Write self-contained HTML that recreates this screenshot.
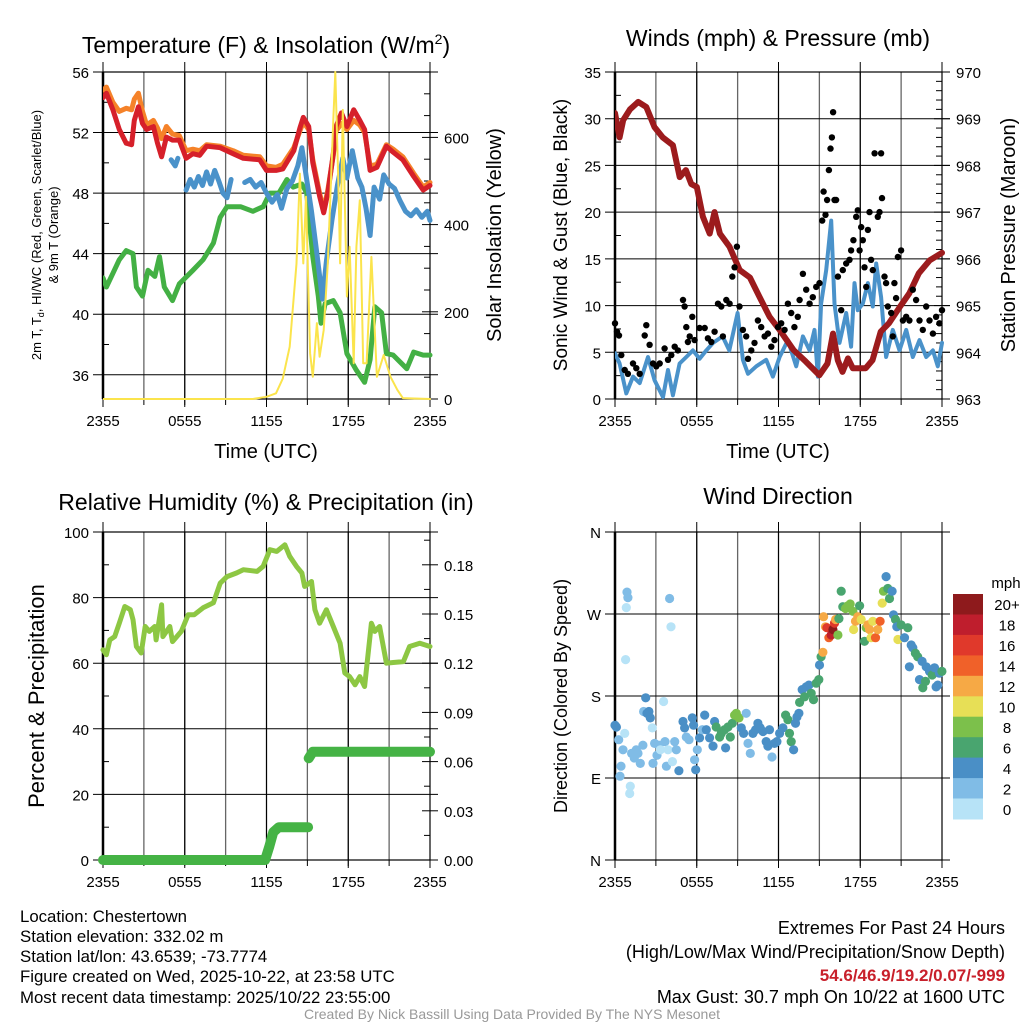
<!DOCTYPE html>
<html><head><meta charset="utf-8"><style>
html,body{margin:0;padding:0;background:#fff;}
svg{display:block;font-family:"Liberation Sans",Arial,sans-serif;}
</style></head><body>
<svg id="fig" width="1024" height="1024" viewBox="0 0 1024 1024">
<rect width="1024" height="1024" fill="#fff"/>
<g id="layer"></g>
<g fill="#000">
<g font-size="16.8">
<text x="20" y="922">Location: Chestertown</text>
<text x="20" y="942">Station elevation: 332.02 m</text>
<text x="20" y="962">Station lat/lon: 43.6539; -73.7774</text>
<text x="20" y="982">Figure created on Wed, 2025-10-22, at 23:58 UTC</text>
<text x="20" y="1003">Most recent data timestamp: 2025/10/22 23:55:00</text>
</g>
<g font-size="18">
<text x="1005" y="934" text-anchor="end">Extremes For Past 24 Hours</text>
<text x="1005" y="958" text-anchor="end">(High/Low/Max Wind/Precipitation/Snow Depth)</text>
<text x="1005" y="981" text-anchor="end" fill="#c8202b" font-weight="bold" font-size="17">54.6/46.9/19.2/0.07/-999</text>
<text x="1005" y="1003" text-anchor="end">Max Gust: 30.7 mph On 10/22 at 1600 UTC</text>
</g>
<text x="512" y="1019" text-anchor="middle" font-size="14" fill="#999">Created By Nick Bassill Using Data Provided By The NYS Mesonet</text>
</g>
</svg>
<script>
// ---------- DATA ----------
const xTickLabels = ["2355","0555","1155","1755","2355"];
const xTickHours = [0,6,12,18,24];
// Temperature panel
const tempT   = [0,0.25,0.73,1.2,1.7,2.1,2.3,2.6,2.9,3.2,3.7,4.0,4.3,4.65,5.1,5.6,6.1,6.6,7.1,7.6,8.6,9.55,10.3,11.5,12.0,12.7,13.2,14.0,14.45,14.7,15.1,15.4,15.9,16.2,16.5,16.9,17.1,17.5,17.9,18.4,18.85,19.2,19.6,20.1,20.8,21.3,22.0,22.8,23.5,24];
const redV    = [54.3,54.6,53.5,52.2,51.3,51.2,52.8,53.7,52.6,52.2,52.4,51.3,50.4,51.7,51.5,51.5,50.3,50.6,50.5,51.1,51.0,50.6,50.3,50.2,49.5,49.5,49.6,50.8,52.3,53.0,52.4,50.0,47.8,46.7,48.0,50.6,52.4,53.3,52.4,53.5,52.8,52.2,49.5,49.7,51.1,50.7,50.2,49.1,48.2,48.5];
const orangeV = [54.8,55.0,54.0,53.4,53.6,53.5,54.2,54.6,53.4,52.5,52.8,52.3,51.6,52.4,51.9,51.8,50.8,50.9,50.8,51.2,51.1,50.8,50.5,50.4,49.8,49.7,49.9,51.0,52.1,52.7,52.2,50.2,48.0,46.9,48.2,50.5,52.1,52.6,52.2,52.8,52.5,52.0,49.8,49.9,51.2,50.9,50.4,49.3,48.4,48.7];
const blueT = [5.0,5.3,5.5,5.7,6.1,6.4,6.7,7.0,7.3,7.6,7.9,8.2,8.5,8.8,9.1,9.4,9.6,10.4,10.8,11.2,11.6,12.0,12.4,12.8,13.1,13.5,13.9,14.3,14.6,14.9,15.3,15.7,16.1,16.4,16.8,17.2,17.6,17.9,18.3,18.7,19.0,19.3,19.6,19.9,20.3,20.6,21.0,21.4,21.8,22.2,22.6,23.0,23.4,23.8,24];
const blueV = [50.2,49.8,50.3,null,48.2,48.9,48.4,49.1,48.5,49.4,48.6,49.5,48.8,48.0,47.7,48.9,null,48.7,48.9,48.4,48.7,48.0,47.4,47.9,47.0,48.3,48.8,49.8,51.0,49.2,46.8,44.0,41.0,43.5,46.2,48.5,50.3,49.0,50.8,49.0,48.4,47.0,45.2,48.4,47.6,49.2,48.6,48.3,47.5,46.8,46.5,46.9,46.4,46.8,46.2];
const greenT = [0,0.25,0.73,1.2,1.7,2.2,2.45,2.9,3.3,3.8,4.15,4.5,5.1,5.6,6.6,7.35,8.1,8.6,9.1,10.1,11.0,11.75,12.25,12.9,13.5,13.95,14.6,14.95,15.4,15.8,16.0,16.3,16.9,17.4,17.9,18.6,19.2,19.6,19.95,20.45,20.8,21.3,22.3,22.8,23.5,24];
const greenV = [42.4,41.8,42.7,43.6,44.2,44.0,41.8,41.2,42.9,42.5,43.8,41.8,40.9,42.0,42.9,43.6,44.7,46.4,47.1,47.1,46.8,47.1,48.0,48.0,48.9,48.4,48.6,48.0,43.8,41.2,39.4,40.7,40.9,40.1,37.4,36.3,35.5,37.0,40.5,40.1,37.4,37.3,36.4,37.5,37.3,37.3];
const solarT = [0,11.0,12.0,12.7,13.2,13.7,14.2,14.45,14.7,14.9,15.2,15.4,15.7,15.9,16.2,16.5,16.9,17.05,17.3,17.4,17.6,17.9,18.1,18.4,18.6,18.85,19.1,19.35,19.7,20.1,20.6,21.1,21.6,22.0,24];
const solarV = [0,0,5,13,47,120,311,517,311,464,105,51,174,97,158,311,640,750,464,311,663,235,349,82,349,456,82,82,326,51,101,51,21,2,0];
// Wind panel
const presT = [0,0.34,0.6,1.1,1.7,2.3,2.9,3.5,4.25,4.75,5.2,5.6,6.0,6.45,6.95,7.3,7.7,8.4,9.15,9.9,10.6,11.35,12.1,13.1,14.0,15.0,15.6,16.0,16.35,16.7,17.1,17.45,18.4,18.9,19.5,20.1,20.9,21.6,22.3,23.1,24];
const presV = [969.12,968.6,968.97,969.2,969.36,969.25,968.82,968.6,968.43,967.75,967.9,967.6,967.54,966.9,966.54,967.0,966.54,966.26,965.76,965.6,965.19,964.76,964.47,964.05,963.8,963.51,963.76,964.4,963.83,963.58,963.87,963.66,963.66,963.83,964.44,964.62,964.97,965.26,965.69,965.97,966.13];
const windT = [0,0.34,0.83,1.32,1.81,2.42,2.91,3.52,3.89,4.25,4.74,5.23,5.72,6.21,6.7,7.19,7.9,8.39,9.0,9.39,9.76,10.37,11.1,11.59,12.08,12.69,13.3,13.79,14.28,14.64,14.89,15.13,15.5,15.87,16.11,16.48,16.97,17.33,17.58,17.82,18.19,18.56,18.92,19.17,19.53,19.9,20.39,20.88,21.37,21.86,22.35,22.84,23.33,23.69,24];
const windV = [4.9,3.8,0.6,2.4,1.7,4.5,2.0,0.2,3.1,0.4,3.8,4.5,5.2,4.3,5.2,6.0,6.7,5.2,9.2,4.2,2.7,3.5,4.2,2.4,4.5,6.3,3.5,6.7,5.2,7.4,2.4,10.2,13.8,19.1,10.2,6.0,9.2,5.6,12.4,9.5,10.2,12.4,9.9,14.5,10.9,4.5,7.4,5.2,7.4,4.5,6.3,4.5,5.2,3.5,6.0];
const gustT = [0,0.15,0.29,0.46,0.71,0.95,1.32,1.56,1.81,2.18,2.3,2.54,2.79,3.03,3.28,3.64,3.89,4.13,4.38,4.62,4.99,5.11,5.23,5.35,5.48,5.67,5.84,6.21,6.58,6.82,7.07,7.31,7.56,7.8,7.92,8.17,8.41,8.61,8.78,8.95,9.14,9.39,9.63,9.76,10.0,10.24,10.49,10.73,10.98,11.22,11.47,11.71,11.96,12.2,12.45,12.69,12.93,13.17,13.42,13.55,13.79,14.03,14.28,14.52,14.77,15.01,15.21,15.31,15.45,15.57,15.7,15.82,15.92,16.01,16.11,16.23,16.36,16.6,16.72,16.97,17.21,17.33,17.5,17.7,17.82,17.95,18.07,18.19,18.31,18.44,18.56,18.68,18.8,18.92,19.05,19.29,19.41,19.53,19.6,19.78,19.9,20.02,20.27,20.39,20.51,20.63,20.76,21.0,21.13,21.37,21.61,21.86,22.1,22.35,22.59,22.84,23.08,23.33,23.57,23.81,24];
const gustV = [8.1,7.2,6.8,4.7,3.1,2.7,3.8,3.3,2.7,6.8,7.9,5.8,3.8,3.5,3.8,5.4,4.2,4.7,5.6,5.2,10.6,9.9,7.7,6.1,6.7,8.8,6.3,7.6,7.6,6.5,6.1,7.2,10.2,9.9,6.7,10.6,10.2,13.1,14.1,16.3,9.9,7.4,6.7,4.3,5.2,6.0,8.4,7.7,6.7,7.0,5.6,6.3,7.7,8.1,7.4,10.2,9.2,7.7,8.8,10.6,13.4,11.7,10.2,10.9,12.0,12.4,19.1,22.2,19.7,21.3,24.5,26.8,28.0,30.7,21.3,21.3,13.1,9.5,13.8,14.5,14.9,15.9,17.0,19.5,20.2,15.9,18.4,17.0,14.1,12.0,18.1,20.0,14.9,13.8,26.3,19.5,20.0,26.3,21.5,13.1,12.4,9.9,9.2,6.7,12.4,10.8,15.2,15.9,8.4,8.8,8.4,11.7,10.6,8.4,7.4,9.9,8.4,7.0,8.8,8.1,9.5];
// RH & precip panel
const rhT = [0,0.25,0.5,0.86,1.2,1.6,2.0,2.2,2.45,2.8,3.1,3.4,3.8,3.9,4.3,4.4,4.9,5.1,5.75,6.25,6.7,7.35,8.1,8.6,9.1,9.8,10.3,11.3,11.75,12.25,12.75,13.35,13.7,14.2,14.6,14.8,15.3,15.55,15.9,16.4,16.9,17.4,17.75,18.1,18.5,18.85,19.2,19.7,19.95,20.3,20.8,21.3,22.05,22.5,23.25,24];
const rhV = [64.1,62.6,67.1,68.1,72.2,77.3,76.3,73.3,65.1,63.1,71.2,69.7,71.2,67.1,77.8,68.1,71.2,66.6,69.7,74.8,74.8,76.9,78.4,84.4,86.4,87.5,88.5,88.0,89.5,94.6,94.1,96.1,92.6,89.5,87.5,83.4,84.9,76.3,72.2,76.3,71.2,66.1,57.0,55.9,53.4,55.9,52.9,72.2,69.7,71.2,60.0,60.2,60.5,65.1,66.1,65.1];
const precipT = [0,11.9,12.2,12.5,12.9,15.05,15.06,15.1,15.4,24];
const precipV = [0,0,0.008,0.017,0.02,0.02,null,0.062,0.066,0.066];
// Wind direction panel
const dirT = [0,0.1,0.27,0.37,0.44,0.59,0.71,0.78,0.88,0.95,0.83,1.12,1.08,1.22,1.42,1.56,1.69,1.86,2.05,2.1,2.25,2.35,2.49,2.59,2.74,2.79,2.91,3.08,3.23,3.33,3.57,3.67,3.77,3.89,4.01,4.11,4.21,4.38,4.5,4.69,4.99,5.11,5.23,5.43,5.67,5.77,5.84,5.92,6.04,6.21,6.41,6.58,6.7,6.94,7.19,7.31,7.43,7.68,7.8,8.04,8.12,8.29,8.46,8.61,8.78,8.9,9.1,9.27,9.44,9.63,9.76,9.93,10.12,10.32,10.49,10.66,10.86,11.1,11.22,11.34,11.52,11.71,11.88,12.08,12.32,12.52,12.69,12.81,12.93,13.11,13.25,13.35,13.5,13.55,13.74,13.91,14.03,14.23,14.4,14.57,14.77,14.96,15.01,15.13,15.26,15.31,15.45,15.55,15.7,15.87,15.99,16.11,16.19,16.36,16.43,16.6,16.72,16.92,17.09,17.26,17.46,17.51,17.65,17.82,17.95,18.07,18.31,18.44,18.56,18.68,18.8,18.92,19.12,19.29,19.46,19.61,19.71,19.9,20.02,20.15,20.34,20.44,20.59,20.76,20.68,21.0,21.25,21.49,21.61,21.74,21.86,22.05,22.22,22.35,22.54,22.59,22.79,22.84,23.08,23.28,23.45,23.57,23.69,23.81,23.99];
const dirDeg = [148,146,132,92,103,121,139,220,294,288,277,81,73,117,112,121,117,106,126,163,178,161,163,156,145,106,128,115,126,121,174,130,103,121,287,256,108,130,121,98,152,145,135,132,156,148,110,99,121,134,143,159,143,134,125,152,146,135,139,143,123,146,135,150,159,161,156,145,139,161,128,117,139,143,150,145,141,130,125,143,113,128,130,139,145,159,154,139,130,121,150,157,161,173,187,179,190,192,183,176,194,198,214,223,228,267,256,255,244,247,253,260,264,247,265,295,278,276,279,281,273,253,262,267,279,264,240,255,258,253,244,262,244,253,262,282,295,311,298,287,295,269,264,242,256,258,244,255,212,236,233,227,223,198,218,189,196,212,207,203,211,190,192,205,207];
const dirSpd = [4,4,3,2,2,2,1,1,2,2,1,1,1,2,2,2,2,2,2,3,4,4,4,4,1,2,2,2,2,1,1,2,2,1,2,1,1,2,3,4,4,4,3,3,4,4,2,4,2,4,3,4,4,4,4,4,6,6,6,7,4,6,6,6,8,8,8,4,4,2,2,2,4,4,4,4,4,4,4,4,2,4,4,4,4,6,6,6,6,4,4,4,4,6,4,6,4,4,6,6,6,6,4,6,12,12,12,16,14,18,20,16,12,8,6,6,6,8,8,8,8,10,12,12,6,10,6,8,12,12,10,10,14,12,14,10,8,4,6,6,4,4,6,10,4,6,4,6,4,4,4,6,6,4,4,6,6,4,4,6,4,4,4,4,6];
const speedLabels = ["20+","18","16","14","12","10","8","6","4","2","0"];
const speedColors = ["#8e1a1c","#bf1e2d","#e0392b","#f06129","#f6a945","#e7df56","#7cc04b","#49a56f","#4a8fc6","#80bce6","#b7e3f7"];

// ---------- HELPERS ----------
const NS = "http://www.w3.org/2000/svg";
const layer = document.getElementById("layer");
function mk(tag, attrs, parent){
  const e = document.createElementNS(NS, tag);
  for (const k in attrs) e.setAttribute(k, attrs[k]);
  (parent||layer).appendChild(e);
  return e;
}
function txt(parent, x, y, s, size, anchor, extra){
  const t = mk("text", Object.assign({x:x, y:y, "font-size":size, "text-anchor":anchor||"middle", fill:"#000"}, extra||{}), parent);
  t.textContent = s;
  return t;
}
function linePath(ts, vs, sx, sy){
  let d = "", pen = false;
  for (let i=0;i<ts.length;i++){
    if (vs[i]===null){ pen=false; continue; }
    d += (pen?"L":"M") + sx(ts[i]).toFixed(1) + "," + sy(vs[i]).toFixed(1);
    pen = true;
  }
  return d;
}
function frame(P, name){
  const g = mk("g", {});
  
  
  const sx = t => P.x0 + t/24*(P.x1-P.x0);
  for (let h=3; h<24; h+=3){
    const gl = mk("line", {x1:sx(h), x2:sx(h), y1:P.y0, y2:P.y1, stroke: h%6===0?"#333":"#666", "stroke-width":1.3}, g);
    
    
    mk("line", {x1:sx(h), x2:sx(h), y1:P.y1, y2:P.y1+6, stroke:"#000", "stroke-width":1}, g);
  }
  const bx = mk("rect", {x:P.x0, y:P.y0, width:P.x1-P.x0, height:P.y1-P.y0, fill:"none", stroke:"#000", "stroke-width":1.2}, g);
  
  
  mk("line", {x1:P.x0, x2:P.x0, y1:P.y0, y2:P.y1, stroke:"#000", "stroke-width":2.5}, g);
  for (let i=0;i<xTickHours.length;i++){
    const x = sx(xTickHours[i]);
    mk("line", {x1:x, x2:x, y1:P.y0-10, y2:P.y1+8, stroke:"#000", "stroke-width":1}, g);
    const tl = txt(g, x, P.y1+27, xTickLabels[i], 15);
    
    
  }
  return {g, sx};
}
function yAxis(g, P, vals, labels, sy, side, minor, grid){
  for (let i=0;i<vals.length;i++){
    const y = sy(vals[i]);
    let gl;
    if (grid) gl = mk("line", {x1:P.x0-10, x2:P.x1+8, y1:y, y2:y, stroke:"#000", "stroke-width":1}, g);
    else gl = mk("line", {x1:P.x1-8, x2:P.x1+8, y1:y, y2:y, stroke:"#000", "stroke-width":1}, g);
    
    
    const tl = side==="left" ? txt(g, P.x0-14, y+6, labels[i], 15, "end") : txt(g, P.x1+14, y+6, labels[i], 15, "start");
    
    
  }
  if (minor) for (const v of minor){
    const y = sy(v);
    if (side==="left") mk("line", {x1:P.x0, x2:P.x0+6, y1:y, y2:y, stroke:"#000"}, g);
    else mk("line", {x1:P.x1-6, x2:P.x1, y1:y, y2:y, stroke:"#000"}, g);
  }
}
function rotText(g, x, y, s, size, name){
  const t = txt(g, 0, 0, s, size, "middle", {transform:"translate("+x+","+y+") rotate(-90)"});
  
  
  return t;
}

// ---------- PANEL 1: Temperature ----------
(function(){
  const P = {x0:103, x1:430, y0:72, y1:399};
  const f = frame(P, "temperature-panel"), g = f.g, sx = f.sx;
  const sy = v => P.y1 - (v-34.4)/(56-34.4)*(P.y1-P.y0);
  const ss = w => P.y1 - w/750*(P.y1-P.y0);
  yAxis(g, P, [36,40,44,48,52,56], ["36","40","44","48","52","56"], sy, "left", [38,42,46,50,54], true);
  yAxis(g, P, [0,200,400,600], ["0","200","400","600"], ss, "right", [50,100,150,250,300,350,450,500,550,650,700], false);
  const clip = mk("clipPath", {id:"c1"}); mk("rect", {x:P.x0, y:P.y0-6, width:P.x1-P.x0+4, height:P.y1-P.y0+8}, clip);
  const sg = mk("g", {"clip-path":"url(#c1)", fill:"none", "stroke-linejoin":"round", "stroke-linecap":"round"}, g);
  let p;
  p = mk("path", {d:linePath(tempT, orangeV, sx, sy), stroke:"#f58229", "stroke-width":5}, sg);
   
  p = mk("path", {d:linePath(tempT, redV, sx, sy), stroke:"#d6202a", "stroke-width":5}, sg);
   
  p = mk("path", {d:linePath(greenT, greenV, sx, sy), stroke:"#43b044", "stroke-width":5}, sg);
   
  p = mk("path", {d:linePath(blueT, blueV, sx, sy), stroke:"#4a92ca", "stroke-width":5}, sg);
   
  p = mk("path", {d:linePath(solarT, solarV, sx, ss), stroke:"#fbe44c", "stroke-width":2}, sg);
   
  const tt = mk("text", {x:266, y:53, "font-size":23, "text-anchor":"middle"}, g);
  tt.innerHTML = 'Temperature (F) &amp; Insolation (W/m<tspan dy="-9" font-size="14">2</tspan><tspan dy="9">)</tspan>';
   
  const xt = txt(g, 266, 458, "Time (UTC)", 20);
   
  const lt = mk("text", {"font-size":13, "text-anchor":"middle", transform:"translate(41,235) rotate(-90)"}, g);
  lt.innerHTML = '2m T, T<tspan dy="3" font-size="9">d</tspan><tspan dy="-3">, HI/WC (Red, Green, Scarlet/Blue)</tspan>';
   
  rotText(g, 58, 235, "& 9m T (Orange)", 13, "left-axis-title-2");
  rotText(g, 501, 235, "Solar Insolation (Yellow)", 20, "right-axis-title");
})();

// ---------- PANEL 2: Winds ----------
(function(){
  const P = {x0:615, x1:942, y0:72, y1:399};
  const f = frame(P, "wind-panel"), g = f.g, sx = f.sx;
  const sy = v => P.y1 - v/35*(P.y1-P.y0);
  const sp = v => P.y1 - (v-963)/7*(P.y1-P.y0);
  yAxis(g, P, [0,5,10,15,20,25,30,35], ["0","5","10","15","20","25","30","35"], sy, "left", [2.5,7.5,12.5,17.5,22.5,27.5,32.5], true);
  const pm=[]; for (let i=1;i<35;i++) if (i%5) pm.push(963+i*0.2);
  yAxis(g, P, [963,964,965,966,967,968,969,970], ["963","964","965","966","967","968","969","970"], sp, "right", pm, false);
  const clip = mk("clipPath", {id:"c2"}); mk("rect", {x:P.x0, y:P.y0, width:P.x1-P.x0+4, height:P.y1-P.y0+4}, clip);
  const sg = mk("g", {"clip-path":"url(#c2)", fill:"none", "stroke-linejoin":"round", "stroke-linecap":"round"}, g);
  let p = mk("path", {d:linePath(windT, windV, sx, sy), stroke:"#4a92ca", "stroke-width":4}, sg);
   
  const dg = mk("g", {fill:"#000"}, g);
  for (let i=0;i<gustT.length;i++){
    const c = mk("circle", {cx:sx(gustT[i]).toFixed(1), cy:sy(gustV[i]).toFixed(1), r:3.2}, dg);
    
    
  }
  p = mk("path", {d:linePath(presT, presV, sx, sp), stroke:"#9c1b1d", "stroke-width":6}, sg);
   
  const tt = txt(g, 778, 46, "Winds (mph) & Pressure (mb)", 23);
   
  const xt = txt(g, 778, 458, "Time (UTC)", 20);
   
  rotText(g, 567, 235, "Sonic Wind & Gust (Blue, Black)", 19, "left-axis-title");
  rotText(g, 1015, 235, "Station Pressure (Maroon)", 20, "right-axis-title");
})();

// ---------- PANEL 3: RH & Precip ----------
(function(){
  const P = {x0:103, x1:430, y0:532, y1:860};
  const f = frame(P, "humidity-panel"), g = f.g, sx = f.sx;
  const sy = v => P.y1 - v/100*(P.y1-P.y0);
  const sq = v => P.y1 - v/0.2*(P.y1-P.y0);
  yAxis(g, P, [0,20,40,60,80,100], ["0","20","40","60","80","100"], sy, "left", [10,30,50,70,90], true);
  yAxis(g, P, [0,0.03,0.06,0.09,0.12,0.15,0.18], ["0.00","0.03","0.06","0.09","0.12","0.15","0.18"], sq, "right", [0.015,0.045,0.075,0.105,0.135,0.165,0.195], false);
  const sg = mk("g", {fill:"none", "stroke-linejoin":"round", "stroke-linecap":"round"}, g);
  let p = mk("path", {d:linePath(rhT, rhV, sx, sy), stroke:"#8dc743", "stroke-width":5}, sg);
   
  p = mk("path", {d:linePath(precipT, precipV, sx, sq), stroke:"#45b345", "stroke-width":10}, sg);
   
  const tt = txt(g, 266, 510, "Relative Humidity (%) & Precipitation (in)", 23);
   
  rotText(g, 44, 696, "Percent & Precipitation", 22, "left-axis-title");
})();

// ---------- PANEL 4: Wind direction ----------
(function(){
  const P = {x0:615, x1:942, y0:532, y1:860};
  const f = frame(P, "wind-direction-panel"), g = f.g, sx = f.sx;
  const sy = d => P.y1 - d/360*(P.y1-P.y0);
  yAxis(g, P, [0,90,180,270,360], ["N","E","S","W","N"], sy, "left", [], true);
  function colorFor(s){ let idx = Math.min(10, Math.floor(s/2)); return speedColors[10-idx]; }
  const dg = mk("g", {}, g);
  for (let i=0;i<dirT.length;i++){
    const c = mk("circle", {cx:sx(dirT[i]).toFixed(1), cy:sy(dirDeg[i]).toFixed(1), r:4.6, fill:colorFor(dirSpd[i])}, dg);
    
    
  }
  const tt = txt(g, 778, 504, "Wind Direction", 23);
   
  rotText(g, 567, 696, "Direction (Colored By Speed)", 18, "left-axis-title");
  const cb = mk("g", {}, g);
   
  const unit = txt(cb, 1006, 588, "mph", 15);
   
  const h = 225/speedColors.length;
  for (let i=0;i<speedColors.length;i++){
    const r = mk("rect", {x:953, y:(594+i*h).toFixed(1), width:30, height:(h+0.5).toFixed(1), fill:speedColors[i]}, cb);
     
    const l = txt(cb, 1007, (594+i*h+h/2+6).toFixed(1), speedLabels[i], 15);
     
  }
})();
</script>
</body></html>
